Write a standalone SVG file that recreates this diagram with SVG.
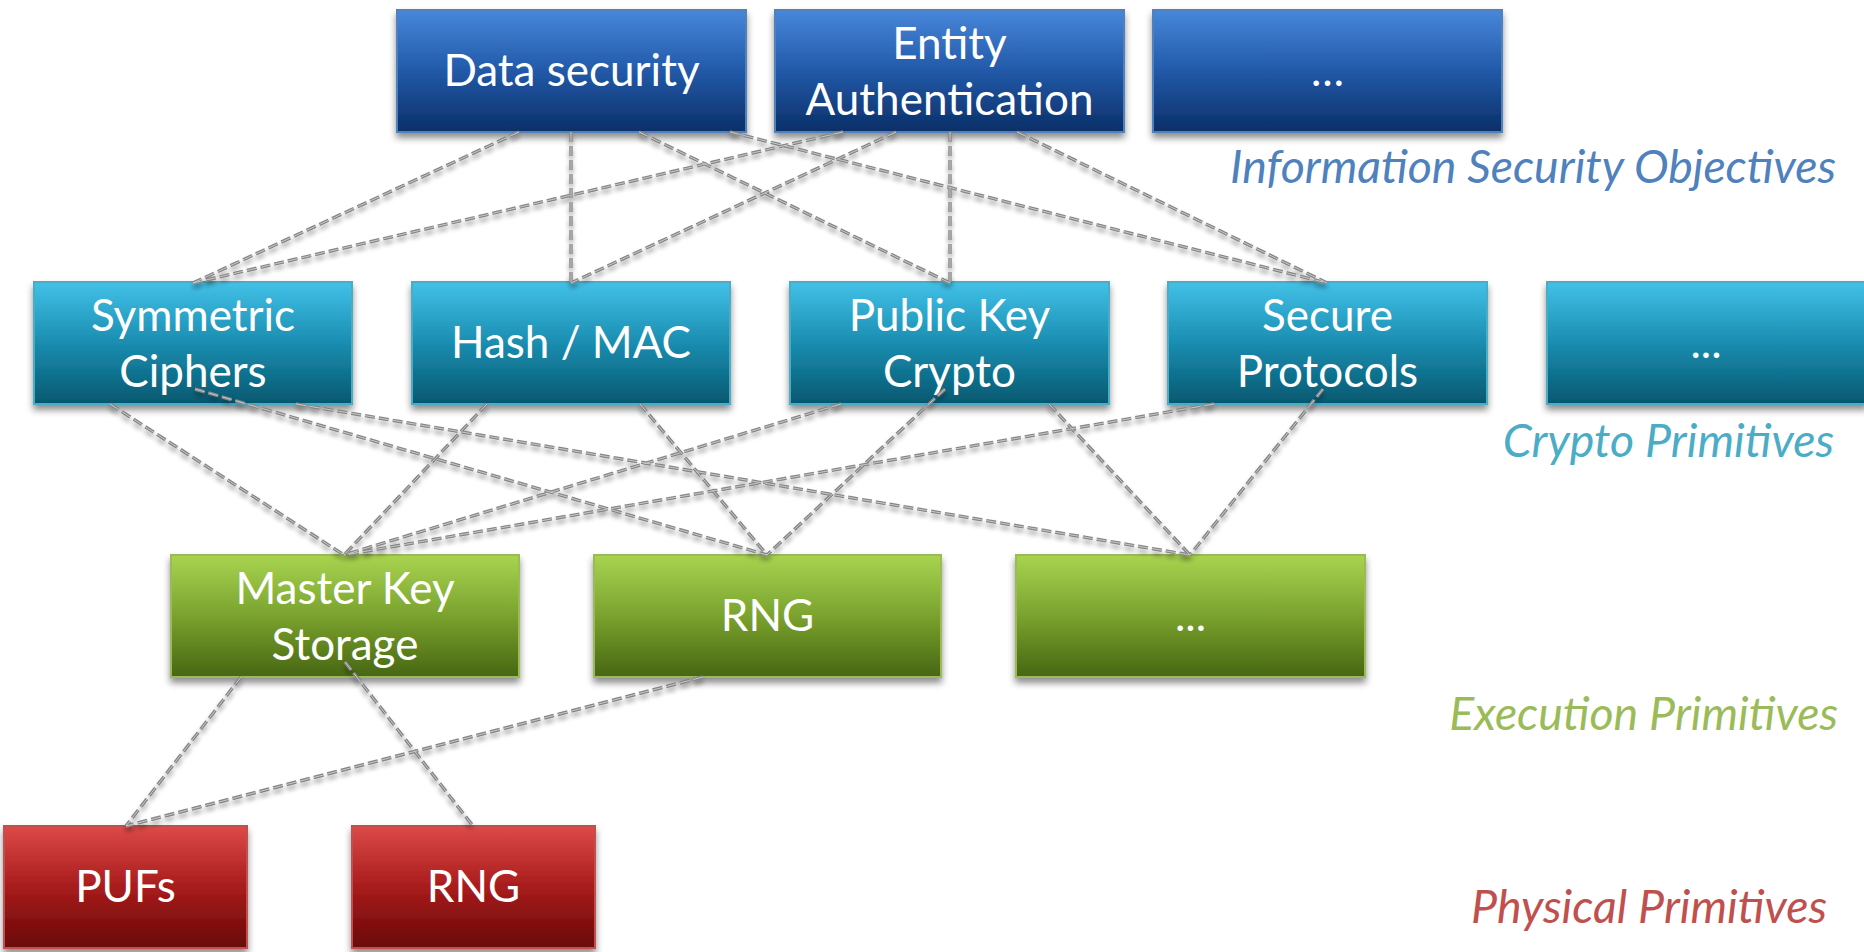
<svg xmlns="http://www.w3.org/2000/svg" width="1864" height="952" viewBox="0 0 1864 952">
<defs>
<linearGradient id="gBlue" x1="0" y1="0" x2="0" y2="1"><stop offset="0" stop-color="#4787DA"/><stop offset="0.5" stop-color="#2259A8"/><stop offset="1" stop-color="#0B2F68"/></linearGradient>
<linearGradient id="gCyan" x1="0" y1="0" x2="0" y2="1"><stop offset="0" stop-color="#42C1E8"/><stop offset="0.5" stop-color="#1A8DB0"/><stop offset="1" stop-color="#055870"/></linearGradient>
<linearGradient id="gGreen" x1="0" y1="0" x2="0" y2="1"><stop offset="0" stop-color="#A8D450"/><stop offset="0.5" stop-color="#7AA22E"/><stop offset="1" stop-color="#466612"/></linearGradient>
<linearGradient id="gRed" x1="0" y1="0" x2="0" y2="1"><stop offset="0" stop-color="#DD4A48"/><stop offset="0.5" stop-color="#A81C1C"/><stop offset="1" stop-color="#690808"/></linearGradient>
<filter id="boxShadow" x="-10%" y="-10%" width="120%" height="130%"><feDropShadow dx="0" dy="5" stdDeviation="3.5" flood-color="#000" flood-opacity="0.45"/></filter>
<filter id="lineShadow" x="-5%" y="-5%" width="110%" height="120%"><feGaussianBlur in="SourceAlpha" stdDeviation="2.5"/><feOffset dx="0" dy="4" result="b"/><feComponentTransfer in="b" result="s"><feFuncA type="linear" slope="0.4"/></feComponentTransfer><feMerge><feMergeNode in="s"/><feMergeNode in="SourceGraphic"/></feMerge></filter>
</defs>
<style>
.box{filter:url(#boxShadow);stroke-width:2}
.blue{fill:url(#gBlue);stroke:#4F81BD}
.cyan{fill:url(#gCyan);stroke:#4BACC6}
.green{fill:url(#gGreen);stroke:#9BBB59}
.red{fill:url(#gRed);stroke:#C0504D}
.t{font-family:Lato,"Liberation Sans",sans-serif;font-size:44px;fill:#fff;text-anchor:middle}
.lab{font-family:Lato,"Liberation Sans",sans-serif;font-size:46.5px;font-style:italic;text-anchor:end}
.c line{stroke:#858585;stroke-width:3.4;stroke-dasharray:10 4;fill:none}
.c2 line{stroke:#D0D0D0;stroke-width:0.9;stroke-dasharray:10 4;fill:none}
</style>
<rect width="1864" height="952" fill="#fff"/>

<g id="nodes">
<g id="n-data-security"><rect class="box blue" x="397" y="10" width="349" height="122"/><text class="t" x="571.5" y="86">Data security</text></g>
<g id="n-entity-auth"><rect class="box blue" x="775" y="10" width="349" height="122"/><text class="t" x="949.5" y="59">Entity</text><text class="t" x="949.5" y="115">Authentication</text></g>
<g id="n-obj-more"><rect class="box blue" x="1153" y="10" width="349" height="122"/><text class="t" x="1327.5" y="86">…</text></g>

<g id="n-symmetric"><rect class="box cyan" x="34" y="282" width="318" height="122"/><text class="t" x="193" y="331">Symmetric</text><text class="t" x="193" y="387">Ciphers</text></g>
<g id="n-hash"><rect class="box cyan" x="412" y="282" width="318" height="122"/><text class="t" x="571" y="358">Hash / MAC</text></g>
<g id="n-pubkey"><rect class="box cyan" x="790" y="282" width="319" height="122"/><text class="t" x="949.5" y="331">Public Key</text><text class="t" x="949.5" y="387">Crypto</text></g>
<g id="n-protocols"><rect class="box cyan" x="1168" y="282" width="319" height="122"/><text class="t" x="1327.5" y="331">Secure</text><text class="t" x="1327.5" y="387">Protocols</text></g>
<g id="n-crypto-more"><rect class="box cyan" x="1547" y="282" width="320" height="122"/><text class="t" x="1706" y="358">...</text></g>

<g id="n-mks"><rect class="box green" x="171" y="555" width="348" height="122"/><text class="t" x="345" y="604">Master Key</text><text class="t" x="345" y="660">Storage</text></g>
<g id="n-rng-exec"><rect class="box green" x="594" y="555" width="347" height="122"/><text class="t" x="767.5" y="631">RNG</text></g>
<g id="n-exec-more"><rect class="box green" x="1016" y="555" width="349" height="122"/><text class="t" x="1190.5" y="631">...</text></g>

<g id="n-pufs"><rect class="box red" x="4" y="826" width="243" height="122"/><text class="t" x="125.5" y="902">PUFs</text></g>
<g id="n-rng-phys"><rect class="box red" x="352" y="826" width="243" height="122"/><text class="t" x="473.5" y="902">RNG</text></g>
</g>

<g id="connectors" filter="url(#lineShadow)">
<g class="c">
<line x1="519" y1="132" x2="193" y2="283"/>
<line x1="571" y1="132" x2="571" y2="283"/>
<line x1="639" y1="132" x2="950" y2="283"/>
<line x1="730" y1="132" x2="1327" y2="283"/>
<line x1="843" y1="132" x2="193" y2="283"/>
<line x1="896" y1="132" x2="571" y2="283"/>
<line x1="950" y1="132" x2="950" y2="283"/>
<line x1="1017" y1="132" x2="1327" y2="283"/>
<line x1="110" y1="404" x2="344" y2="555"/>
<line x1="195" y1="389" x2="767" y2="555"/>
<line x1="296" y1="404" x2="1190" y2="555"/>
<line x1="487" y1="404" x2="344" y2="555"/>
<line x1="640" y1="404" x2="767" y2="555"/>
<line x1="841" y1="404" x2="344" y2="555"/>
<line x1="945" y1="389" x2="767" y2="555"/>
<line x1="1049" y1="404" x2="1190" y2="555"/>
<line x1="1214" y1="404" x2="344" y2="555"/>
<line x1="1323" y1="389" x2="1190" y2="555"/>
<line x1="241" y1="677" x2="126" y2="826"/>
<line x1="345" y1="662" x2="473" y2="826"/>
<line x1="703" y1="677" x2="126" y2="826"/>
</g>
<g class="c2">
<line x1="519" y1="132" x2="193" y2="283"/>
<line x1="571" y1="132" x2="571" y2="283"/>
<line x1="639" y1="132" x2="950" y2="283"/>
<line x1="730" y1="132" x2="1327" y2="283"/>
<line x1="843" y1="132" x2="193" y2="283"/>
<line x1="896" y1="132" x2="571" y2="283"/>
<line x1="950" y1="132" x2="950" y2="283"/>
<line x1="1017" y1="132" x2="1327" y2="283"/>
<line x1="110" y1="404" x2="344" y2="555"/>
<line x1="195" y1="389" x2="767" y2="555"/>
<line x1="296" y1="404" x2="1190" y2="555"/>
<line x1="487" y1="404" x2="344" y2="555"/>
<line x1="640" y1="404" x2="767" y2="555"/>
<line x1="841" y1="404" x2="344" y2="555"/>
<line x1="945" y1="389" x2="767" y2="555"/>
<line x1="1049" y1="404" x2="1190" y2="555"/>
<line x1="1214" y1="404" x2="344" y2="555"/>
<line x1="1323" y1="389" x2="1190" y2="555"/>
<line x1="241" y1="677" x2="126" y2="826"/>
<line x1="345" y1="662" x2="473" y2="826"/>
<line x1="703" y1="677" x2="126" y2="826"/>
</g>
</g>

<g id="layer-labels">
<text class="lab" x="1836" y="183" fill="#4F81BD">Information Security Objectives</text>
<text class="lab" x="1834" y="457" fill="#4BACC6">Crypto Primitives</text>
<text class="lab" x="1838" y="730" fill="#9BBB59">Execution Primitives</text>
<text class="lab" x="1827" y="923" fill="#C0504D">Physical Primitives</text>
</g>
</svg>
